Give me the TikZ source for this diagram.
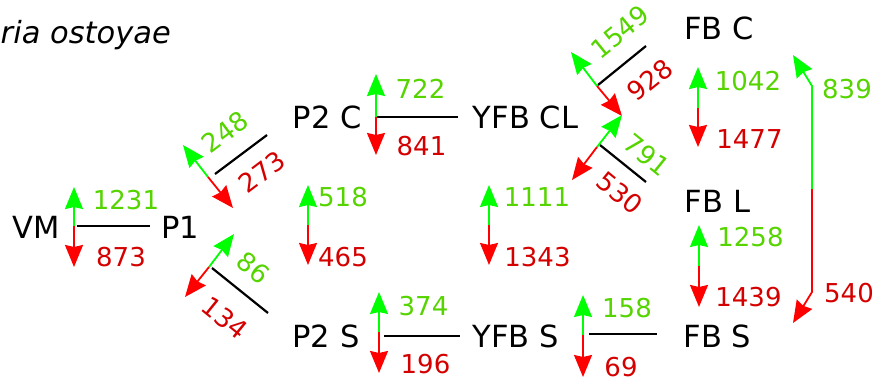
\documentclass[tikz,border=0pt]{standalone}
\usepackage{fontspec}
\setmainfont{DejaVu Sans}
\usetikzlibrary{arrows.meta}

\definecolor{upgreen}{HTML}{00FF00}
\definecolor{downred}{HTML}{FF0000}
\definecolor{numgreen}{HTML}{55D400}
\definecolor{numred}{HTML}{D40000}

\tikzset{
  place/.style={font=\fontsize{30.5}{36}\selectfont, inner sep=0pt, anchor=base},
  flux/.style={font=\fontsize{26}{30}\selectfont, inner sep=0pt},
  gnum/.style={flux, text=numgreen},
  rnum/.style={flux, text=numred},
  link/.style={line width=2.2pt, draw=black},
  head/.style={-{Stealth[length=22pt,width=18pt,inset=2pt]}},
  garr/.style={line width=1.8pt, draw=upgreen, head},
  rarr/.style={line width=1.8pt, draw=downred, head},
}

% a two-way flux marker: green shaft towards #2, red shaft towards #3, both from #1
\newcommand\fluxpair[3]{%
  \draw[garr] #1 -- #2;
  \draw[rarr] #1 -- #3;
}

\begin{document}
\begin{tikzpicture}[x=1pt,y=-1pt]
\useasboundingbox (0,0) rectangle (875,381);

% species name
\node[font=\fontsize{30.5}{36}\selectfont\itshape, inner sep=0pt, anchor=base east]
  (title) at (171,43) {Armillaria ostoyae};

% stages
\node[place] (VM)    at (36,238)    {VM};
\node[place] (P1)    at (180.5,238) {P1};
\node[place] (P2C)   at (327,128)   {P2 C};
\node[place] (YFBCL) at (525.5,128) {YFB CL};
\node[place] (P2S)   at (326,347)   {P2 S};
\node[place] (YFBS)  at (515.5,347) {YFB S};
\node[place] (FBC)   at (719,39)    {FB C};
\node[place] (FBL)   at (717.5,212) {FB L};
\node[place] (FBS)   at (717.5,347) {FB S};

% transitions
\draw[link] ([shift={(41,-12)}]VM.base)    -- ([shift={(-30.5,-12)}]P1.base);
\draw[link] ([shift={(34.5,-64)}]P1.base)  -- ([shift={(-60,7)}]P2C.base);
\draw[link] ([shift={(31.5,30)}]P1.base)   -- ([shift={(-58,-34)}]P2S.base);
\draw[link] ([shift={(50,-11)}]P2C.base)   -- ([shift={(-67.5,-11)}]YFBCL.base);
\draw[link] ([shift={(58,-11)}]P2S.base)   -- ([shift={(-55.5,-11)}]YFBS.base);
\draw[link] ([shift={(73.5,-13)}]YFBS.base) -- ([shift={(-60.5,-13)}]FBS.base);
\draw[link] ([shift={(72.5,-43)}]YFBCL.base) -- ([shift={(-73,7)}]FBC.base);
\draw[link] ([shift={(74.5,17)}]YFBCL.base)  -- ([shift={(-71.5,-30)}]FBL.base);

% up / down regulated counts
\fluxpair{(74,226)}{(74,187)}{(74,267)}
\fluxpair{(208,177)}{(183,145)}{(233,208)}
\fluxpair{(209,267)}{(234,234)}{(185,297)}
\fluxpair{(376,117)}{(376,74)}{(376,155)}
\fluxpair{(308,225)}{(308,185)}{(308,265)}
\fluxpair{(489,225)}{(489,185)}{(489,265)}
\fluxpair{(379,332)}{(379,292)}{(379,373)}
\fluxpair{(583,335)}{(583,295)}{(583,377)}
\fluxpair{(597,86)}{(571,52)}{(622,116)}
\fluxpair{(597,147)}{(622,115)}{(572,180)}
\fluxpair{(698,108)}{(698,67)}{(698,147)}
\fluxpair{(699,266)}{(699,225)}{(699,307)}
\draw[garr] (812,189) -- (812,86) -- (793,55);
\draw[rarr] (812,189) -- (812,292) -- (793,323);

\node[gnum] (n1231) at (126,200)   {1231};
\node[rnum] (n873)  at (121,257)   {873};
\node[gnum, rotate=37] (n248) at (225,132) {248};
\node[rnum, rotate=37] (n273) at (262,172) {273};
\node[gnum, rotate=-39] (n86)  at (253,268) {86};
\node[rnum, rotate=-39] (n134) at (225,318) {134};
\node[gnum] (n722)  at (420.5,89)  {722};
\node[rnum] (n841)  at (421.5,146) {841};
\node[gnum] (n518)  at (343,197.5) {518};
\node[rnum] (n465)  at (343,257.5) {465};
\node[gnum] (n1111) at (537,197.5) {1111};
\node[rnum] (n1343) at (537.5,257.5) {1343};
\node[gnum] (n374)  at (423.5,306.5) {374};
\node[rnum] (n196)  at (425.5,364.5) {196};
\node[gnum] (n158)  at (627,308.5) {158};
\node[rnum] (n69)   at (621,367.5) {69};
\node[gnum, rotate=39] (n1549) at (620,32) {1549};
\node[rnum, rotate=39] (n928)  at (650,80) {928};
\node[gnum, rotate=-39] (n791) at (647,155) {791};
\node[rnum, rotate=-39] (n530) at (620,193) {530};
\node[gnum] (n1042) at (748,81)    {1042};
\node[rnum] (n1477) at (749.5,139.5) {1477};
\node[gnum] (n1258) at (750.5,237) {1258};
\node[rnum] (n1439) at (748.5,297) {1439};
\node[gnum] (n839)  at (847,89.5)  {839};
\node[rnum] (n540)  at (849,293)   {540};
\end{tikzpicture}
\end{document}
